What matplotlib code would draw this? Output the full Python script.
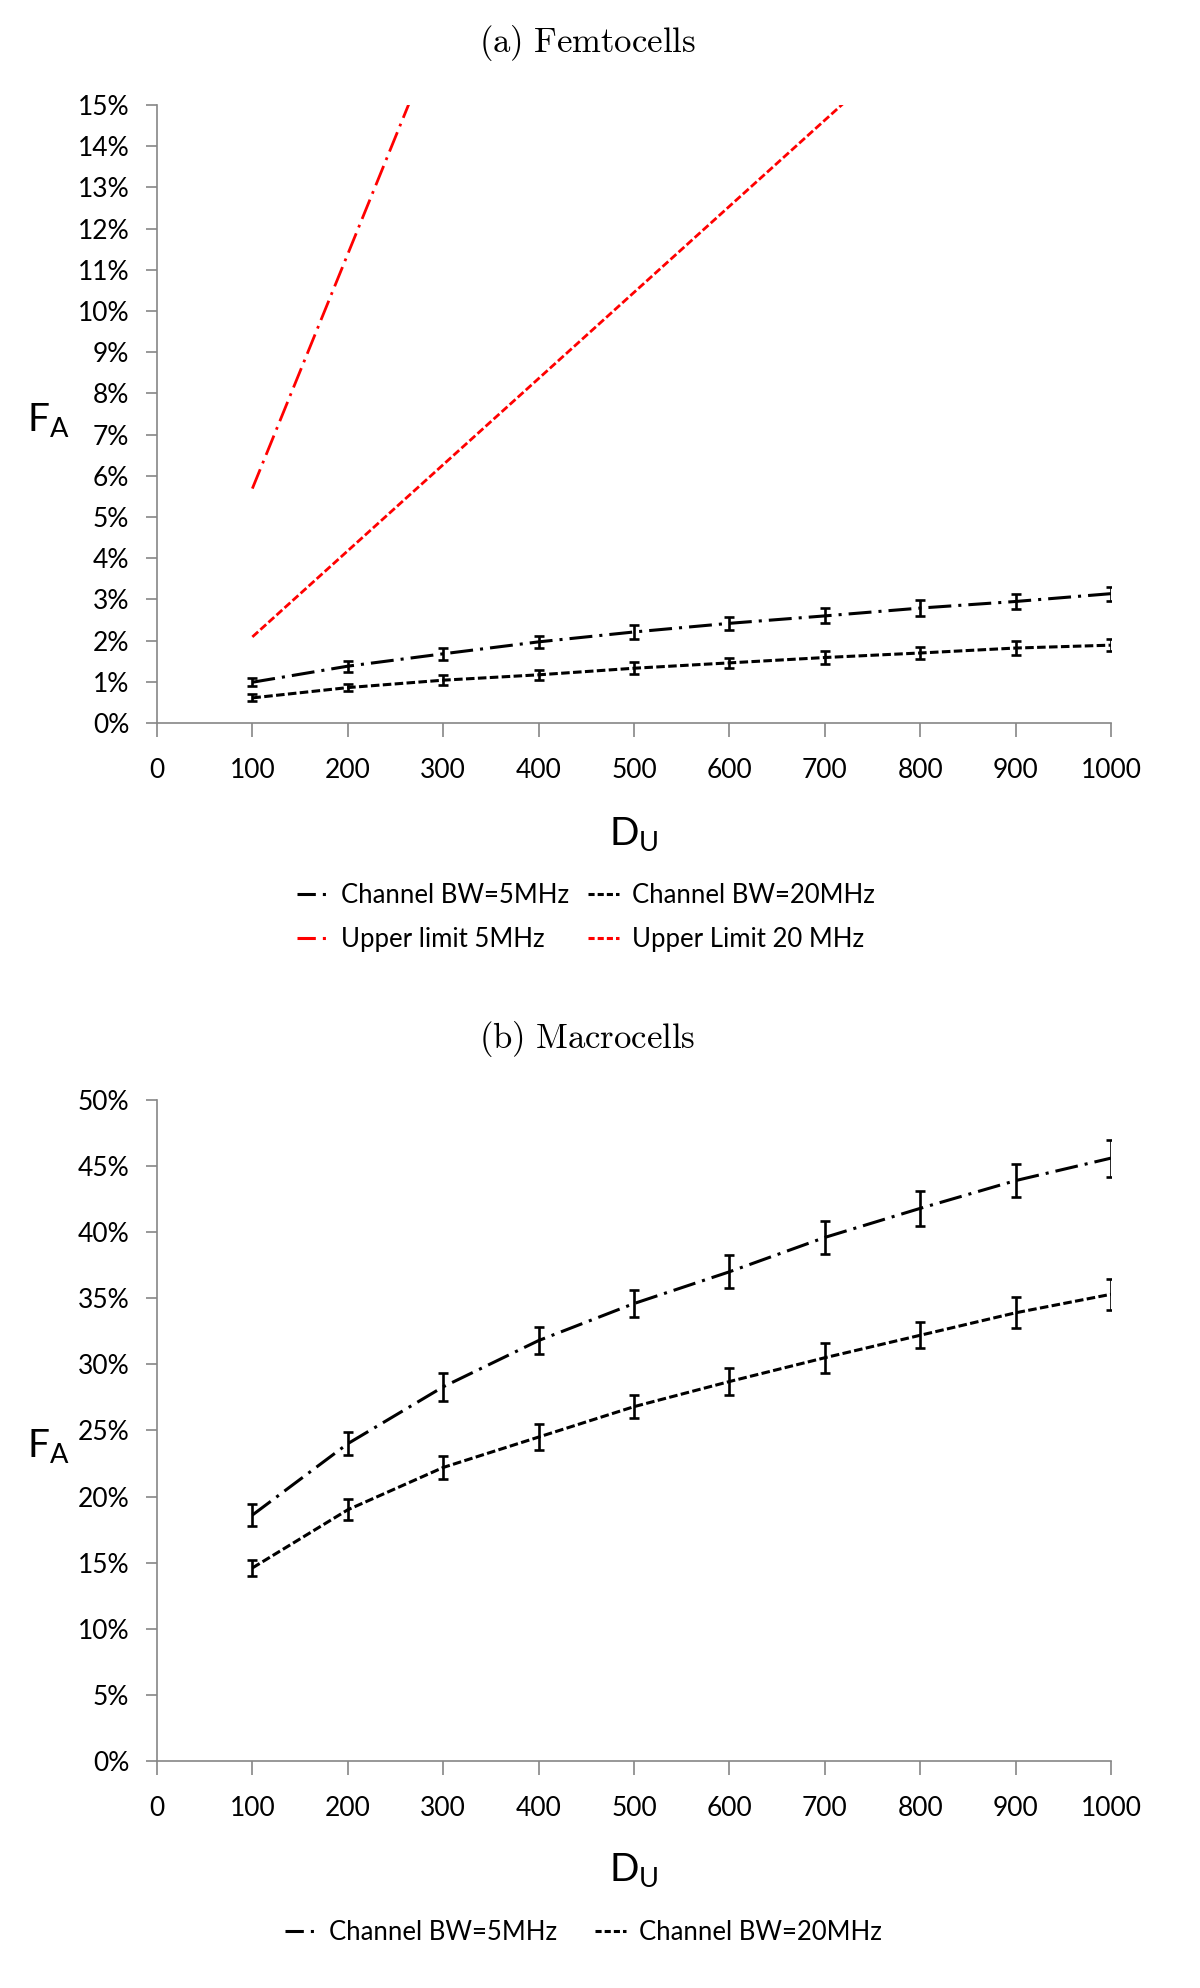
"""F_A vs D_U for femtocells and macrocells, two stacked panels."""

import matplotlib
matplotlib.use("Agg")
import matplotlib.pyplot as plt
from matplotlib.lines import Line2D
from matplotlib.ticker import FuncFormatter, MultipleLocator

plt.rcParams["font.family"] = ["Lato", "DejaVu Sans"]
plt.rcParams["mathtext.fontset"] = "custom"
plt.rcParams["mathtext.rm"] = "Lato"
plt.rcParams["mathtext.it"] = "Lato:italic"

# ---------------------------------------------------------------------------
# Data (percent)
# ---------------------------------------------------------------------------

D_U = [100, 200, 300, 400, 500, 600, 700, 800, 900, 1000]

FEMTO_BW5     = [0.99, 1.38, 1.68, 1.97, 2.21, 2.42, 2.60, 2.79, 2.95, 3.14]
FEMTO_BW5_ERR = [0.10, 0.13, 0.14, 0.15, 0.16, 0.15, 0.18, 0.19, 0.18, 0.17]
FEMTO_BW20     = [0.61, 0.86, 1.04, 1.17, 1.33, 1.46, 1.59, 1.70, 1.82, 1.89]
FEMTO_BW20_ERR = [0.085, 0.09, 0.12, 0.125, 0.14, 0.13, 0.16, 0.15, 0.17, 0.15]

UPPER_5_X  = [100, 200, 300]
UPPER_5    = [5.69, 11.38, 17.07]
UPPER_20_X = [100, 200, 300, 400, 500, 600, 700, 800]
UPPER_20   = [2.09, 4.18, 6.27, 8.36, 10.45, 12.54, 14.63, 16.72]

MACRO_BW5     = [18.6, 24.0, 28.3, 31.8, 34.6, 37.0, 39.6, 41.8, 43.9, 45.6]
MACRO_BW5_ERR = [0.8, 0.86, 1.04, 1.0, 1.0, 1.24, 1.22, 1.3, 1.26, 1.39]
MACRO_BW20     = [14.6, 19.0, 22.2, 24.5, 26.8, 28.7, 30.5, 32.2, 33.9, 35.3]
MACRO_BW20_ERR = [0.6, 0.8, 0.86, 0.97, 0.86, 1.05, 1.15, 0.97, 1.17, 1.15]

# ---------------------------------------------------------------------------
# Styles
# ---------------------------------------------------------------------------

GRAY      = "#868686"
RED       = "#ff0000"
DASHDOT   = (0, (7.5, 2.3, 1, 2.3))
SHORTDASH = (0, (2.8, 1.1))
TICK_FS   = 19
LEGEND_FS = 18.5
LABEL_FS  = 28
TITLE_FS  = 25
TITLE_X   = 587 / 1200


def style_axes(ax, ymax, ystep):
    ax.set_xlim(0, 1000)
    ax.set_ylim(0, ymax)
    ax.xaxis.set_major_locator(MultipleLocator(100))
    ax.yaxis.set_major_locator(MultipleLocator(ystep))
    ax.yaxis.set_major_formatter(FuncFormatter(lambda v, _: f"{int(round(v))}%"))
    for side in ("top", "right"):
        ax.spines[side].set_visible(False)
    for side in ("left", "bottom"):
        ax.spines[side].set_color(GRAY)
        ax.spines[side].set_linewidth(1.2)
    ax.tick_params(axis="y", length=8, width=1.2, color=GRAY, pad=12, labelsize=TICK_FS)
    ax.tick_params(axis="x", length=10, width=1.2, color=GRAY, pad=15, labelsize=TICK_FS)
    ax.set_xlabel(r"$\mathrm{D_U}$", fontsize=LABEL_FS)
    ax.set_ylabel(r"$\mathrm{F_A}$", fontsize=LABEL_FS, rotation=0, va="center", ha="center")


def draw_series(ax, y, err, ls):
    ax.errorbar(D_U, y, yerr=err, color="black", lw=2.2, ls=ls,
                elinewidth=1.9, capsize=3.5, capthick=1.9, zorder=3)


def legend_handle(color, ls):
    return Line2D([], [], color=color, lw=2.2, ls=ls)


LEG_DASHDOT = (0, (6, 2.3, 1, 2.3))
LEG_DASH    = (0, (2, 1))

fig = plt.figure(figsize=(12, 19.88), dpi=100)

# — (a) Femtocells ---------------------------------------------------------
ax_f = fig.add_axes([0.1308, 0.6363, 0.795, 0.3109])
draw_series(ax_f, FEMTO_BW5, FEMTO_BW5_ERR, DASHDOT)
draw_series(ax_f, FEMTO_BW20, FEMTO_BW20_ERR, SHORTDASH)
ax_f.plot(UPPER_5_X, UPPER_5, color=RED, lw=2.0, ls=DASHDOT, zorder=2)
ax_f.plot(UPPER_20_X, UPPER_20, color=RED, lw=2.0, ls=SHORTDASH, zorder=2)
style_axes(ax_f, 15, 1)
ax_f.yaxis.set_label_coords(-0.114, 0.49)
ax_f.xaxis.set_label_coords(0.5, -0.18)
ax_f.xaxis.label.set_va("center")

fig.text(TITLE_X, 0.9782, r"$\mathrm{(a)\ Femtocells}$", fontsize=TITLE_FS,
         math_fontfamily="cm", ha="center", va="center")

fig.legend(
    [legend_handle("black", LEG_DASHDOT), legend_handle(RED, LEG_DASHDOT),
     legend_handle("black", LEG_DASH), legend_handle(RED, LEG_DASH)],
    ["Channel BW=5MHz", "Upper limit 5MHz", "Channel BW=20MHz", "Upper Limit 20 MHz"],
    ncol=2, loc="upper left", bbox_to_anchor=(297 / 1200, 1 - 883 / 1988),
    frameon=False, fontsize=LEGEND_FS, handlelength=1.2, handletextpad=0.5,
    columnspacing=0.75, labelspacing=0.72, borderpad=0, borderaxespad=0,
)

# — (b) Macrocells ---------------------------------------------------------
ax_m = fig.add_axes([0.1308, 0.1142, 0.795, 0.3325])
draw_series(ax_m, MACRO_BW5, MACRO_BW5_ERR, DASHDOT)
draw_series(ax_m, MACRO_BW20, MACRO_BW20_ERR, SHORTDASH)
style_axes(ax_m, 50, 5)
ax_m.yaxis.set_label_coords(-0.114, 0.477)
ax_m.xaxis.set_label_coords(0.5, -0.165)
ax_m.xaxis.label.set_va("center")

fig.text(TITLE_X, 0.4772, r"$\mathrm{(b)\ Macrocells}$", fontsize=TITLE_FS,
         math_fontfamily="cm", ha="center", va="center")

fig.legend(
    [legend_handle("black", LEG_DASHDOT), legend_handle("black", LEG_DASH)],
    ["Channel BW=5MHz", "Channel BW=20MHz"],
    ncol=2, loc="upper left", bbox_to_anchor=(285 / 1200, 1 - 1920 / 1988),
    frameon=False, fontsize=LEGEND_FS, handlelength=1.2, handletextpad=0.5,
    columnspacing=1.5, borderpad=0, borderaxespad=0,
)

fig.savefig("out.png", dpi=100)
plt.close(fig)
